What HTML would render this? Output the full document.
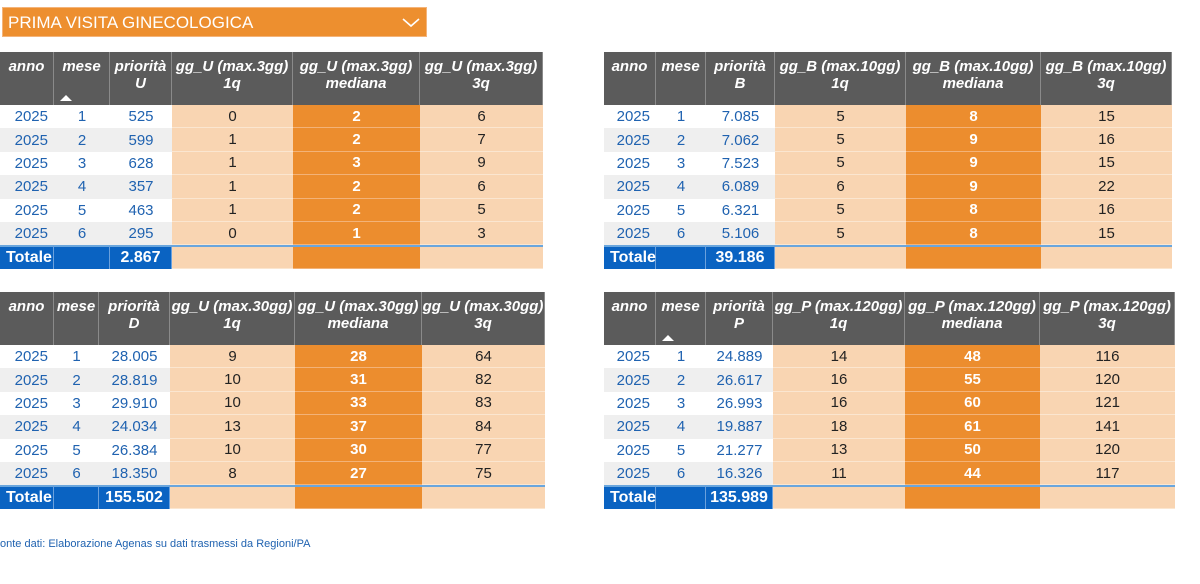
<!DOCTYPE html>
<html><head><meta charset="utf-8">
<style>
body{margin:0;width:1200px;height:584px;background:#fff;position:relative;overflow:hidden;font-family:"Liberation Sans Narrow","Liberation Sans",sans-serif;}
.c{position:absolute;box-sizing:border-box;display:flex;align-items:center;justify-content:center;font-size:15px;}
.h{background:#5b5b5b;color:#fff;font-weight:bold;font-style:italic;align-items:flex-start;text-align:center;line-height:17px;padding-top:6px;border-right:1px solid #8a8a8a;font-size:15px;}
.b{color:#1f62b0;}
.lo{background:#f9d5b2;color:#222;border-bottom:1px solid #fbe6d0;}
.or{background:#ec8d2e;color:#fff;font-weight:bold;border-bottom:1px solid #f3b277;}
.tot{background:#0a63c2;color:#fff;font-weight:bold;font-size:16px;border-right:1px solid #6aa0dc;}
</style></head><body>
<div style="position:absolute;left:2px;top:7px;width:425px;height:30px;background:#ed8f2f;border:1px solid #f4b47a;box-sizing:border-box;color:#fff;font-size:17px;line-height:30px;padding-left:5px;font-family:'Liberation Sans Narrow','Liberation Sans',sans-serif;">PRIMA VISITA GINECOLOGICA<svg width="18" height="10" style="position:absolute;right:6px;top:10px"><polyline points="1,1 9,8 17,1" fill="none" stroke="#fff" stroke-width="1.6"/></svg></div>
<div style="position:absolute;left:0;top:538px;font-size:11px;color:#1f62b0;font-family:'Liberation Sans',sans-serif;">onte dati: Elaborazione Agenas su dati trasmessi da Regioni/PA</div>
<script>
const months=[1,2,3,4,5,6];
const prioU=["525","599","628","357","463","295"], q1U=[0,1,1,1,1,0], medU=[2,2,3,2,2,1], q3U=[6,7,9,6,5,3], totU="2.867";
const prioB=["7.085","7.062","7.523","6.089","6.321","5.106"], q1B=[5,5,5,6,5,5], medB=[8,9,9,9,8,8], q3B=[15,16,15,22,16,15], totB="39.186";
const prioD=["28.005","28.819","29.910","24.034","26.384","18.350"], q1D=[9,10,10,13,10,8], medD=[28,31,33,37,30,27], q3D=[64,82,83,84,77,75], totD="155.502";
const prioP=["24.889","26.617","26.993","19.887","21.277","16.326"], q1P=[14,16,16,18,13,11], medP=[48,55,60,61,50,44], q3P=[116,120,121,141,120,117], totP="135.989";
function cell(cls,x,y,w,h,txt,name){const d=document.createElement('div');d.className='c '+cls;


d.style.left=x+'px';d.style.top=y+'px';d.style.width=w+'px';d.style.height=h+'px';d.innerHTML=txt;document.body.appendChild(d);return d;}
function table(id,cols,top,hdrs,prio,q1,med,q3,tot,arrow){
 const hh=53,rh=23.4;
 for(let i=0;i<6;i++){const x=cols[i],w=cols[i+1]-cols[i];
  const c=cell('h',x,top,w,hh,hdrs[i],id+'-header-'+i);
  if(i===1&&arrow){const a=document.createElement('div');a.style.cssText='position:absolute;left:6px;bottom:4px;width:0;height:0;border-left:6px solid transparent;border-right:6px solid transparent;border-bottom:6px solid #fff';
  
  
  c.appendChild(a);}}
 for(let r=0;r<6;r++){const y=top+hh+r*rh;const bg=r%2?'#efefef':'#fff';
  const vals=["2025",months[r],prio[r],q1[r],med[r],q3[r]];
  for(let i=0;i<6;i++){const cls=i<3?'b':(i===4?'or':'lo');
   const c=cell(cls,cols[i],y,cols[i+1]-cols[i],rh,vals[i],id+'-row'+(r+1)+'-col'+i);
   if(i<3){c.style.background=bg;if(i==0){c.style.justifyContent='flex-end';c.style.paddingRight='6px';}}
  }}
 const y=top+hh+6*rh;
 const tv=["Totale","",tot,"","",""];
 for(let i=0;i<6;i++){const cls=i<3?'tot':(i===4?'or':'lo');
  const c=cell(cls,cols[i],y,cols[i+1]-cols[i],24,tv[i],id+'-total-col'+i);
  c.style.borderTop='2px solid #6aa6dd';if(i==0){c.style.justifyContent='flex-start';c.style.paddingLeft='6px';}}
}
table('table-u',[0,54,110,172,293,420,543],52,["anno","mese","priorità<br>U","gg_U (max.3gg)<br>1q","gg_U (max.3gg)<br>mediana","gg_U (max.3gg)<br>3q"],prioU,q1U,medU,q3U,totU,true);
table('table-b',[604,656,706,775,906,1041,1172],52,["anno","mese","priorità<br>B","gg_B (max.10gg)<br>1q","gg_B (max.10gg)<br>mediana","gg_B (max.10gg)<br>3q"],prioB,q1B,medB,q3B,totB,false);
table('table-d',[0,54,99,170,295,422,545],292,["anno","mese","priorità<br>D","gg_U (max.30gg)<br>1q","gg_U (max.30gg)<br>mediana","gg_U (max.30gg)<br>3q"],prioD,q1D,medD,q3D,totD,false);
table('table-p',[604,656,706,773,905,1040,1175],292,["anno","mese","priorità<br>P","gg_P (max.120gg)<br>1q","gg_P (max.120gg)<br>mediana","gg_P (max.120gg)<br>3q"],prioP,q1P,medP,q3P,totP,true);
</script>
</body></html>
